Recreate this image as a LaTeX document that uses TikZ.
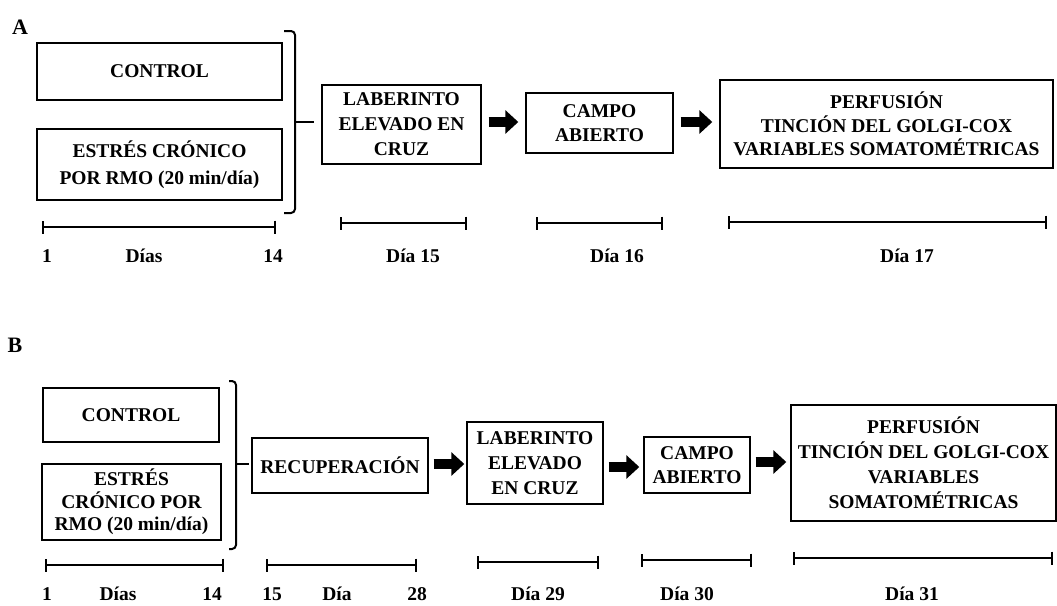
\documentclass[tikz,border=0pt]{standalone}
\usepackage{fontspec}
\setmainfont{Liberation Serif}
\usetikzlibrary{arrows.meta}
\tikzset{
  txt/.style={font=\fontsize{19.5}{24}\selectfont\bfseries, inner sep=0pt, align=center},
  box/.style={txt, draw, line width=1.4pt, rectangle},
  tl/.style={line width=2pt, {Bar[width=13pt,line width=2pt]}-{Bar[width=13pt,line width=2pt]}},
  blk/.style={line width=10pt, -{Triangle[length=13pt,width=23pt]}, shorten <=7pt, shorten >=7pt},
  brk/.style={line width=2pt, rounded corners=4pt},
  tick/.style={line width=2pt},
  panel/.style={font=\fontsize{22}{24}\selectfont\bfseries, inner sep=0pt},
}
\begin{document}
\begin{tikzpicture}[x=1pt,y=-1pt]
\useasboundingbox (0,0) rectangle (1057,605);
% ---------------- Panel A ----------------
\node[panel] (lA) at (20,27) {A};
\node[box, minimum width=245, minimum height=57] (ctrlA) at (159.5,71.5) {CONTROL};
\node[box, minimum width=245, minimum height=71, font=\fontsize{19.5}{27}\selectfont\bfseries] (estA) at (159.5,164.5) {ESTRÉS CRÓNICO\\POR RMO (20 min/día)};
\node[box, minimum width=159, minimum height=79, font=\fontsize{19.5}{25}\selectfont\bfseries] (labA) at (401.5,124.5) {LABERINTO\\ELEVADO EN\\CRUZ};
\node[box, minimum width=147, minimum height=60, font=\fontsize{19.5}{23.5}\selectfont\bfseries] (campoA) at (599.5,123) {CAMPO\\ABIERTO};
\node[box, minimum width=333, minimum height=88, font=\fontsize{19.5}{23.5}\selectfont\bfseries] (perfA) at (886.5,124) {PERFUSIÓN\\TINCIÓN DEL GOLGI-COX\\VARIABLES SOMATOMÉTRICAS};
\coordinate (brA) at (295,122);
\draw[brk] (284,31) -- (295,31) -- (295,213) -- (284,213);
\draw[tick, shorten >=7pt] (brA) -- (labA.west |- brA);
\draw[blk] (labA.east |- 0,122) -- (campoA.west |- 0,122);
\draw[blk] (campoA.east |- 0,122) -- (perfA.west |- 0,122);
\coordinate (a1s) at (42,227);  \coordinate (a1e) at (276,227);
\coordinate (a2s) at (340,223); \coordinate (a2e) at (467,223);
\coordinate (a3s) at (536,223); \coordinate (a3e) at (663,223);
\coordinate (a4s) at (728,222); \coordinate (a4e) at (1047,222);
\draw[tl] (a1s) -- (a1e);
\draw[tl] (a2s) -- (a2e);
\draw[tl] (a3s) -- (a3e);
\draw[tl] (a4s) -- (a4e);
\node[txt] (ta1) at (47,256) {1};
\node[txt] (ta2) at (144,256) {Días};
\node[txt] (ta3) at (273,256) {14};
\node[txt] (ta4) at (413,256) {Día 15};
\node[txt] (ta5) at (617,256) {Día 16};
\node[txt] (ta6) at (907,256) {Día 17};
% ---------------- Panel B ----------------
\node[panel] (lB) at (15,345) {B};
\node[box, minimum width=176, minimum height=54] (ctrlB) at (131,415) {CONTROL};
\node[box, minimum width=179, minimum height=76, font=\fontsize{19.5}{22.5}\selectfont\bfseries] (estB) at (131.5,502) {ESTRÉS\\CRÓNICO POR\\RMO (20 min/día)};
\node[box, minimum width=176, minimum height=55] (recB) at (340,465.5) {RECUPERACIÓN};
\node[box, minimum width=136, minimum height=82, font=\fontsize{19.5}{25}\selectfont\bfseries] (labB) at (535,463) {LABERINTO\\ELEVADO\\EN CRUZ};
\node[box, minimum width=106, minimum height=56, font=\fontsize{19.5}{23.5}\selectfont\bfseries] (campoB) at (697,465) {CAMPO\\ABIERTO};
\node[box, minimum width=265, minimum height=116, font=\fontsize{19.5}{25}\selectfont\bfseries] (perfB) at (923.5,463) {PERFUSIÓN\\TINCIÓN DEL GOLGI-COX\\VARIABLES\\SOMATOMÉTRICAS};
\coordinate (brB) at (236,464);
\draw[brk] (229,381) -- (236,381) -- (236,549) -- (229,549);
\draw[tick, shorten >=2pt] (brB) -- (recB.west |- brB);
\draw[blk, shorten <=5pt, shorten >=2pt] (recB.east |- 0,464) -- (labB.west |- 0,464);
\draw[blk, shorten <=5pt, shorten >=4pt] (labB.east |- 0,467) -- (campoB.west |- 0,467);
\draw[blk, shorten <=5pt, shorten >=4pt] (campoB.east |- 0,462) -- (perfB.west |- 0,462);
\coordinate (b1s) at (45,565);  \coordinate (b1e) at (224,565);
\coordinate (b2s) at (266,565); \coordinate (b2e) at (417,565);
\coordinate (b3s) at (477,562); \coordinate (b3e) at (599,562);
\coordinate (b4s) at (641,560); \coordinate (b4e) at (752,560);
\coordinate (b5s) at (793,558); \coordinate (b5e) at (1053,558);
\draw[tl] (b1s) -- (b1e);
\draw[tl] (b2s) -- (b2e);
\draw[tl] (b3s) -- (b3e);
\draw[tl] (b4s) -- (b4e);
\draw[tl] (b5s) -- (b5e);
\node[txt] (tb1) at (47,594) {1};
\node[txt] (tb2) at (118,594) {Días};
\node[txt] (tb3) at (212,594) {14};
\node[txt] (tb4) at (272,594) {15};
\node[txt] (tb5) at (337,594) {Día};
\node[txt] (tb6) at (417,594) {28};
\node[txt] (tb7) at (538,594) {Día 29};
\node[txt] (tb8) at (687,594) {Día 30};
\node[txt] (tb9) at (912,594) {Día 31};
\end{tikzpicture}
\end{document}
